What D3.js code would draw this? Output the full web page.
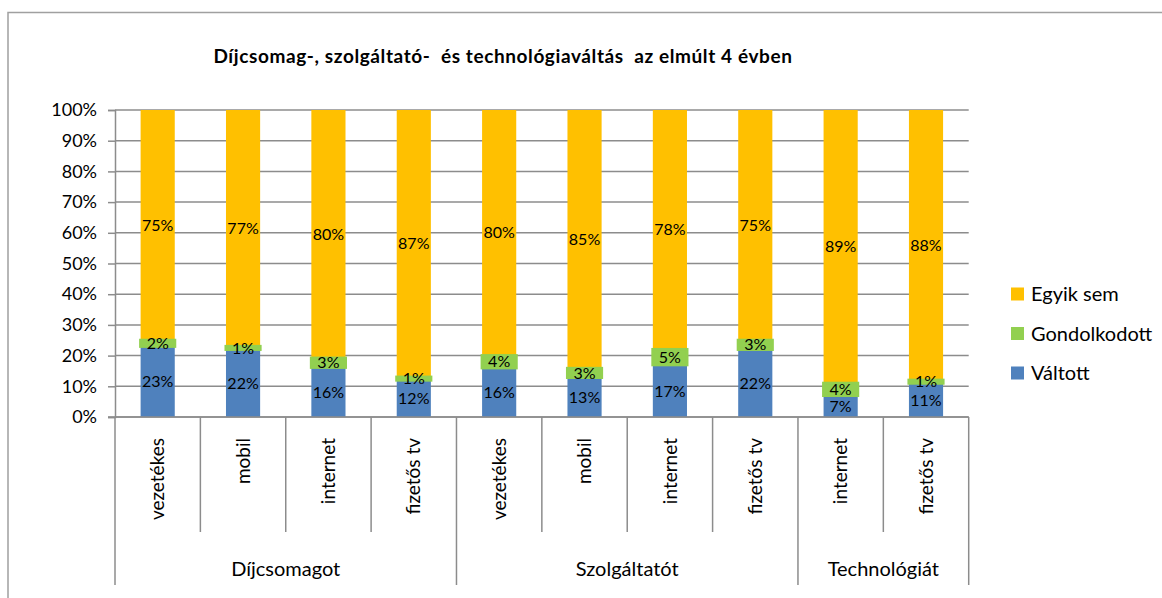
<!DOCTYPE html>
<html>
<head>
<meta charset="utf-8">
<script src="https://cdn.jsdelivr.net/npm/d3@7"></script>
<style>
  html, body { margin: 0; padding: 0; background: #fff; }
  svg { display: block; }
  text { font-family: Lato, "Open Sans", sans-serif; fill: #000; }
</style>
</head>
<body>
<svg id="chart" width="1162" height="598"></svg>
<script>
// ---- data ----
const title = "Díjcsomag-, szolgáltató-  és technológiaváltás  az elmúlt 4 évben";
const categories = ["vezetékes", "mobil", "internet", "fizetős tv", "vezetékes", "mobil", "internet", "fizetős tv", "internet", "fizetős tv"];
const groupNames = ["Díjcsomagot", "Szolgáltatót", "Technológiát"];
const groupSizes = [4, 4, 2];
const seriesNames = ["Váltott", "Gondolkodott", "Egyik sem"];
const valtott = [23, 22, 16, 12, 16, 13, 17, 22, 7, 11];
const gondolkodott = [2, 1, 3, 1, 4, 3, 5, 3, 4, 1];
const egyikSem = [75, 77, 80, 87, 80, 85, 78, 75, 89, 88];
const yTicks = [0, 0.1, 0.2, 0.3, 0.4, 0.5, 0.6, 0.7, 0.8, 0.9, 1];
const colors = { "Váltott": "#4F81BD", "Gondolkodott": "#92D050", "Egyik sem": "#FFC000" };

// ---- layout ----
const svg = d3.select("#chart");
const L = 115, R = 968.7, T = 110, B = 417;
const x = d3.scaleBand().domain(d3.range(categories.length)).range([L, R]).padding(0);
const y = d3.scaleLinear().domain([0, 1]).range([B, T]);
const barW = x.bandwidth() * 0.4;

// outer frame
svg.append("rect").attr("x", 8).attr("y", 12.5).attr("width", 1170).attr("height", 600)
  .attr("fill", "none").attr("stroke", "#a0a0a0").attr("stroke-width", 1.5);

// title
svg.append("text").attr("x", 503).attr("y", 63).attr("text-anchor", "middle")
  .style("font-weight", "bold").style("font-size", "19px").style("letter-spacing", "0.6px")
  .style("white-space", "pre")
  .text(title);

// gridlines
svg.append("g").selectAll("line").data(yTicks).join("line")
  .attr("x1", L).attr("x2", R).attr("y1", d => y(d)).attr("y2", d => y(d))
  .attr("stroke", "#8c8c8c").attr("stroke-width", 1.5);

// y axis
const yAxis = svg.append("g").attr("transform", `translate(${L},0)`)
  .call(d3.axisLeft(y).tickValues(yTicks).tickFormat(d3.format(".0%")).tickSize(7).tickPadding(11));
yAxis.select(".domain").attr("stroke", "#8c8c8c").attr("stroke-width", 1.5);
yAxis.selectAll(".tick line").attr("stroke", "#8c8c8c").attr("stroke-width", 1.5);
yAxis.selectAll(".tick text").style("font-size", "18px").style("font-family", "Lato, sans-serif").attr("fill", "#000");

// stacked data
const rows = categories.map((c, i) => ({ i, "Váltott": valtott[i], "Gondolkodott": gondolkodott[i], "Egyik sem": egyikSem[i] }));
const stack = d3.stack().keys(seriesNames).offset(d3.stackOffsetExpand);
const stacked = stack(rows);
const drawOrder = [stacked[0], stacked[2], stacked[1]];

const barsG = svg.append("g");
drawOrder.forEach(s => {
  barsG.append("g").selectAll("rect").data(s).join("rect")
    .attr("x", d => x(d.data.i) + (x.bandwidth() - barW) / 2)
    .attr("width", barW)
    .attr("y", d => y(d[1]))
    .attr("height", d => y(d[0]) - y(d[1]))
    .attr("fill", colors[s.key])
    .attr("stroke", s.key === "Gondolkodott" ? colors[s.key] : "none")
    .attr("stroke-width", s.key === "Gondolkodott" ? 3 : 0);
});

// data labels
const labelsG = svg.append("g");
stacked.forEach(s => {
  labelsG.append("g").selectAll("text").data(s).join("text")
    .attr("x", d => x(d.data.i) + x.bandwidth() / 2)
    .attr("y", d => y((d[0] + d[1]) / 2))
    .attr("dy", "0.35em")
    .attr("text-anchor", "middle")
    .style("font-size", "16px")
    .text(d => d.data[s.key] + "%");
});

// x axis line
svg.append("line").attr("x1", L - 7).attr("x2", R).attr("y1", B).attr("y2", B)
  .attr("stroke", "#8c8c8c").attr("stroke-width", 1.5);

// category dividers & group dividers
const groupStarts = [];
let acc = 0;
groupSizes.forEach(n => { groupStarts.push(acc); acc += n; });
const boundaries = d3.range(categories.length + 1);
svg.append("g").selectAll("line").data(boundaries).join("line")
  .attr("x1", d => d < categories.length ? x(d) : R)
  .attr("x2", d => d < categories.length ? x(d) : R)
  .attr("y1", B)
  .attr("y2", d => (groupStarts.includes(d) || d === categories.length) ? 585 : 532)
  .attr("stroke", "#8c8c8c").attr("stroke-width", 1.5);

// category labels (rotated)
svg.append("g").selectAll("text").data(categories).join("text")
  .attr("transform", (d, i) => `translate(${x(i) + x.bandwidth() / 2},438) rotate(-90)`)
  .attr("text-anchor", "end")
  .attr("dy", "0.35em")
  .style("font-size", "19px")
  .text(d => d);

// group labels
svg.append("g").selectAll("text").data(groupNames).join("text")
  .attr("x", (d, gi) => {
    const s = groupStarts[gi], e = s + groupSizes[gi];
    const x0 = x(s), x1 = e < categories.length ? x(e) : R;
    return (x0 + x1) / 2;
  })
  .attr("y", 569).attr("dy", "0.35em").attr("text-anchor", "middle")
  .style("font-size", "20px")
  .text(d => d);

// legend
const legendItems = ["Egyik sem", "Gondolkodott", "Váltott"];
const lg = svg.append("g");
legendItems.forEach((k, i) => {
  const cy = 294 + i * 39.5;
  lg.append("rect").attr("x", 1011).attr("y", cy - 6.5).attr("width", 13).attr("height", 13).attr("fill", colors[k]);
  lg.append("text").attr("x", 1031).attr("y", cy).attr("dy", "0.35em").style("font-size", "20px").text(k);
});
</script>
</body>
</html>
